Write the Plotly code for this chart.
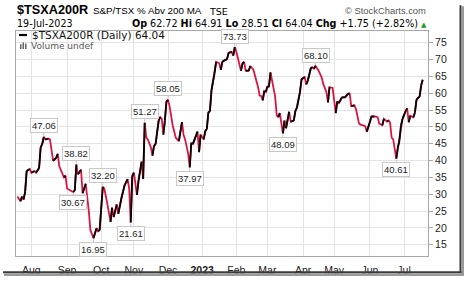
import plotly.graph_objects as go

# ---------------- data ----------------
dates = [
    "2022-07-19", "2022-07-21", "2022-07-22", "2022-07-25", "2022-07-26", "2022-07-27", "2022-07-29",
    "2022-08-01", "2022-08-03", "2022-08-04", "2022-08-08", "2022-08-09", "2022-08-10", "2022-08-11",
    "2022-08-12", "2022-08-16", "2022-08-17", "2022-08-19", "2022-08-23", "2022-08-24", "2022-08-25",
    "2022-08-26", "2022-08-30", "2022-08-31",
    "2022-09-01", "2022-09-06", "2022-09-07", "2022-09-08", "2022-09-09", "2022-09-12", "2022-09-14",
    "2022-09-15", "2022-09-19", "2022-09-21", "2022-09-22", "2022-09-26", "2022-09-28", "2022-09-29",
    "2022-09-30",
    "2022-10-04", "2022-10-05", "2022-10-07", "2022-10-11", "2022-10-12", "2022-10-13", "2022-10-17",
    "2022-10-18", "2022-10-20", "2022-10-24", "2022-10-26", "2022-10-27", "2022-10-28", "2022-10-31",
    "2022-11-01", "2022-11-03", "2022-11-04", "2022-11-08", "2022-11-09", "2022-11-10", "2022-11-11",
    "2022-11-14", "2022-11-16", "2022-11-17", "2022-11-18", "2022-11-21", "2022-11-23", "2022-11-24",
    "2022-11-25", "2022-11-28", "2022-11-29", "2022-11-30",
    "2022-12-01", "2022-12-02", "2022-12-06", "2022-12-08", "2022-12-12", "2022-12-14", "2022-12-15",
    "2022-12-16", "2022-12-20", "2022-12-21", "2022-12-22", "2022-12-23", "2022-12-28", "2022-12-29",
    "2022-12-30",
    "2023-01-03", "2023-01-04", "2023-01-05", "2023-01-06", "2023-01-09", "2023-01-10", "2023-01-12",
    "2023-01-13", "2023-01-17", "2023-01-18", "2023-01-19", "2023-01-23", "2023-01-24", "2023-01-25",
    "2023-01-27", "2023-01-30", "2023-01-31",
    "2023-02-01", "2023-02-06", "2023-02-07", "2023-02-08", "2023-02-09", "2023-02-13", "2023-02-14",
    "2023-02-16", "2023-02-21", "2023-02-22", "2023-02-23", "2023-02-24", "2023-02-27", "2023-02-28",
    "2023-03-01", "2023-03-02", "2023-03-03", "2023-03-06", "2023-03-08", "2023-03-09", "2023-03-10",
    "2023-03-13", "2023-03-14", "2023-03-15", "2023-03-16", "2023-03-17", "2023-03-21", "2023-03-22",
    "2023-03-24", "2023-03-27", "2023-03-28", "2023-03-30", "2023-03-31",
    "2023-04-04", "2023-04-05", "2023-04-06", "2023-04-10", "2023-04-11", "2023-04-12", "2023-04-13",
    "2023-04-17", "2023-04-19", "2023-04-20", "2023-04-24", "2023-04-25", "2023-04-26", "2023-04-28",
    "2023-05-01", "2023-05-02", "2023-05-03", "2023-05-04", "2023-05-08", "2023-05-10", "2023-05-12",
    "2023-05-15", "2023-05-16", "2023-05-18", "2023-05-19", "2023-05-23", "2023-05-24", "2023-05-29",
    "2023-05-30",
    "2023-06-01", "2023-06-02", "2023-06-06", "2023-06-08", "2023-06-09", "2023-06-13", "2023-06-14",
    "2023-06-16", "2023-06-19", "2023-06-20", "2023-06-21", "2023-06-22", "2023-06-26", "2023-06-27",
    "2023-06-28", "2023-06-29", "2023-06-30",
    "2023-07-04", "2023-07-05", "2023-07-06", "2023-07-07", "2023-07-11", "2023-07-12", "2023-07-13",
    "2023-07-14", "2023-07-17", "2023-07-18", "2023-07-19",
]
values = [
    29.3, 27.9, 29.3, 28.4, 30.7, 36.9, 37.5,
    36.4, 36.9, 36.4, 37.8, 43.9, 44.9, 47.06,
    46.3, 46.5, 46.3, 39.96, 40.8, 42.0, 38.3,
    37.3, 35.0, 35.5,
    31.7, 30.9, 30.67, 31.2, 38.82, 35.9, 37.3,
    30.3, 33.1, 25.1, 19.4, 16.95, 19.9, 19.0,
    19.4,
    32.2, 31.7, 27.0, 21.8, 26.0, 23.2, 27.0,
    24.2, 28.8, 32.6, 34.5, 31.7, 21.61, 35.4,
    36.4, 29.8, 34.0, 39.7, 34.5, 51.27, 46.8,
    46.3, 43.9, 41.5, 44.4, 44.9, 51.9, 52.9,
    52.4, 47.7, 51.9, 57.6,
    58.05, 56.2, 50.5, 46.8, 45.8, 51.4, 47.7,
    46.3, 42.0, 37.97, 45.3, 44.9, 48.6, 42.5,
    47.7,
    46.3, 48.8, 49.4, 54.3, 54.7, 60.9, 66.0,
    69.35, 68.9, 67.0, 69.35, 70.0, 70.1, 72.0,
    72.3, 71.2, 73.73,
    72.3, 66.7, 68.9, 69.35, 66.7, 66.7, 68.1,
    67.0, 61.8, 59.3, 59.2, 57.9, 60.7, 60.4,
    62.0, 62.0, 66.2, 63.7, 59.0, 53.5, 52.9,
    54.1, 50.5, 48.09, 51.9, 49.6, 54.5, 51.6,
    51.9, 54.7, 55.7, 60.4, 64.2,
    64.8, 62.6, 63.7, 67.5, 67.7, 67.3, 68.10,
    66.7, 64.6, 62.7, 60.4, 57.3, 61.8, 61.6,
    57.1, 54.1, 57.6, 57.1, 58.8, 58.8, 59.9,
    59.9, 56.2, 56.4, 55.4, 51.0, 50.7, 50.2,
    48.6,
    51.4, 53.1, 53.1, 52.9, 51.0, 50.5, 52.4,
    51.6, 51.9, 51.3, 46.8, 46.3, 40.61, 43.9,
    45.8, 50.5, 52.4,
    54.7, 55.5, 51.4, 53.3, 52.9, 54.3, 58.05,
    58.7, 59.0, 62.29, 64.04,
]

label_dates = [
    "2022-08-11", "2022-09-09", "2022-09-07", "2022-10-04", "2022-09-26", "2022-10-28",
    "2022-11-10", "2022-12-01", "2022-12-21", "2023-01-31", "2023-03-15", "2023-04-13",
    "2023-06-26",
]

month_ticks = ["2022-08-01", "2022-09-01", "2022-10-03", "2022-11-01", "2022-12-01", "2023-01-02",
               "2023-02-01", "2023-03-01", "2023-04-03", "2023-05-01", "2023-06-01", "2023-07-03"]
month_labels = ["Aug", "Sep", "Oct", "Nov", "Dec", "<b>2023</b>", "Feb", "Mar", "Apr", "May",
                "Jun", "Jul"]
y_ticks = [15, 20, 25, 30, 35, 40, 45, 50, 55, 60, 65, 70, 75]

symbol = "$TSXA200R"
name = "S&P/TSX % Abv 200 MA"
exchange = "TSE"
date_str = "19-Jul-2023"
op, hi, lo, cl, chg, chg_pct = 62.72, 64.91, 28.51, 64.04, 1.75, 2.82

# ---------------- geometry helpers ----------------
W, H = 464, 288
PL, PR, PT, PB = 16, 428, 31, 267


def px(x):
    return (x - PL) / (PR - PL)


def py(y):
    return (PB - y) / (PB - PT)


UP = "#000000"
DOWN = "#dc1442"

fig = go.Figure()

# full line in red, then up-day segments drawn in black on top
fig.add_trace(go.Scatter(x=dates, y=values, mode="lines",
                         line=dict(color=DOWN, width=1.8), hoverinfo="skip", showlegend=False))
bx, by = [], []
for i in range(1, len(values)):
    if values[i] >= values[i - 1]:
        bx += [dates[i - 1], dates[i], None]
        by += [values[i - 1], values[i], None]
fig.add_trace(go.Scatter(x=bx, y=by, mode="lines", connectgaps=False,
                         line=dict(color=UP, width=1.8), hoverinfo="skip", showlegend=False))

annotations = []
# value labels at peaks / troughs
for d in label_dates:
    i = dates.index(d)
    v = values[i]
    prev_v = values[i - 1] if i > 0 else v
    next_v = values[i + 1] if i + 1 < len(values) else v
    is_peak = v >= prev_v and v >= next_v
    annotations.append(dict(
        x=d, y=v, xref="x", yref="y", text=f"{v:.2f}",
        showarrow=True, arrowhead=0, arrowwidth=1, arrowcolor="#c4c4c4",
        ax=0, ay=-11 if is_peak else 11, standoff=1,
        font=dict(family="Liberation Sans, Arial", size=9.5, color="#222"),
        bgcolor="white", bordercolor="#c8c8c8", borderwidth=1, borderpad=1,
    ))

# header texts
annotations += [
    dict(x=px(15), y=py(9), xref="paper", yref="paper", xanchor="left", yanchor="middle",
         text=f"<b>{symbol}</b>", showarrow=False,
         font=dict(family="Liberation Sans, Arial", size=12.7, color="#000")),
    dict(x=px(90.5), y=py(9.8), xref="paper", yref="paper", xanchor="left", yanchor="middle",
         text=name, showarrow=False,
         font=dict(family="Liberation Sans, Arial", size=9.8, color="#000")),
    dict(x=px(207), y=py(10.3), xref="paper", yref="paper", xanchor="left", yanchor="middle",
         text=exchange, showarrow=False,
         font=dict(family="DejaVu Sans", size=9.5, color="#000")),
    dict(x=px(428), y=py(9.5), xref="paper", yref="paper", xanchor="right", yanchor="middle",
         text="© StockCharts.com", showarrow=False,
         font=dict(family="Liberation Sans, Arial", size=9.4, color="#555")),
    dict(x=px(15), y=py(23), xref="paper", yref="paper", xanchor="left", yanchor="middle",
         text=date_str, showarrow=False,
         font=dict(family="DejaVu Sans", size=9.6, color="#000")),
    dict(x=px(429), y=py(23), xref="paper", yref="paper", xanchor="right", yanchor="middle",
         text=(f"<b>Op</b> {op:.2f} <b>Hi</b> {hi:.2f} <b>Lo</b> {lo:.2f} <b>Cl</b> {cl:.2f} "
               f"<b>Chg</b> +{chg:.2f} (+{chg_pct:.2f}%) "
               f"<span style='color:#1a9a1a;font-size:7px'>▲</span>"),
         showarrow=False,
         font=dict(family="DejaVu Sans", size=9.6, color="#000")),
    # legend
    dict(x=px(30), y=py(35.2), xref="paper", yref="paper", xanchor="left", yanchor="middle",
         text=f"{symbol} (Daily) {values[-1]:.2f}", showarrow=False,
         font=dict(family="DejaVu Sans", size=10.5, color="#111")),
    dict(x=px(28.5), y=py(46.8), xref="paper", yref="paper", xanchor="left", yanchor="middle",
         text="Volume undef", showarrow=False,
         font=dict(family="DejaVu Sans", size=9, color="#555")),
]

shapes = [
    # legend dash
    dict(type="line", xref="paper", yref="paper", x0=px(19), x1=px(27), y0=py(35.2), y1=py(35.2),
         line=dict(color="#000", width=2.2)),
    # volume icon bars
    dict(type="rect", xref="paper", yref="paper", x0=px(20), x1=px(21.5), y0=py(50), y1=py(45),
         fillcolor="#666", line=dict(width=0)),
    dict(type="rect", xref="paper", yref="paper", x0=px(22.5), x1=px(24), y0=py(50), y1=py(43),
         fillcolor="#666", line=dict(width=0)),
    dict(type="rect", xref="paper", yref="paper", x0=px(25), x1=px(26.5), y0=py(50), y1=py(44),
         fillcolor="#666", line=dict(width=0)),
    # drop shadow (right and bottom)
    dict(type="rect", xref="paper", yref="paper", x0=px(459.5), x1=px(461.5), y0=py(4), y1=py(285),
         fillcolor="#3a3a3a", line=dict(width=0), layer="above"),
    dict(type="rect", xref="paper", yref="paper", x0=px(461.5), x1=px(464), y0=py(5), y1=py(287),
         fillcolor="#9a9a9a", line=dict(width=0), layer="above"),
    dict(type="rect", xref="paper", yref="paper", x0=px(3), x1=px(461.5), y0=py(283), y1=py(285),
         fillcolor="#3a3a3a", line=dict(width=0), layer="above"),
    dict(type="rect", xref="paper", yref="paper", x0=px(4), x1=px(464), y0=py(285), y1=py(288),
         fillcolor="#9a9a9a", line=dict(width=0), layer="above"),
]

fig.update_layout(
    width=W, height=H,
    margin=dict(l=PL, r=W - PR, t=PT, b=H - PB, pad=0),
    paper_bgcolor="white", plot_bgcolor="white",
    showlegend=False,
    annotations=annotations,
    shapes=shapes,
    xaxis=dict(
        type="date",
        range=["2022-07-18 03:00", "2023-07-24 10:00"],
        rangebreaks=[dict(bounds=["sat", "mon"])],
        tickmode="array", tickvals=month_ticks, ticktext=month_labels,
        showgrid=True, gridcolor="#e3e3e3", gridwidth=1,
        showline=True, linecolor="#a8a8a8", linewidth=1, mirror=True,
        ticks="outside", ticklen=4, tickcolor="rgba(0,0,0,0)", zeroline=False,
        tickfont=dict(family="Liberation Sans, Arial", size=10.5, color="#222"),
    ),
    yaxis=dict(
        range=[11.65, 78.5],
        side="right",
        tickmode="array", tickvals=y_ticks,
        showgrid=True, gridcolor="#e3e3e3", gridwidth=1,
        showline=True, linecolor="#a8a8a8", linewidth=1, mirror=True,
        ticks="outside", ticklen=4, tickcolor="#a8a8a8",
        zeroline=False,
        tickfont=dict(family="Liberation Sans, Arial", size=10.5, color="#222"),
    ),
)

fig.write_html("out.html")
